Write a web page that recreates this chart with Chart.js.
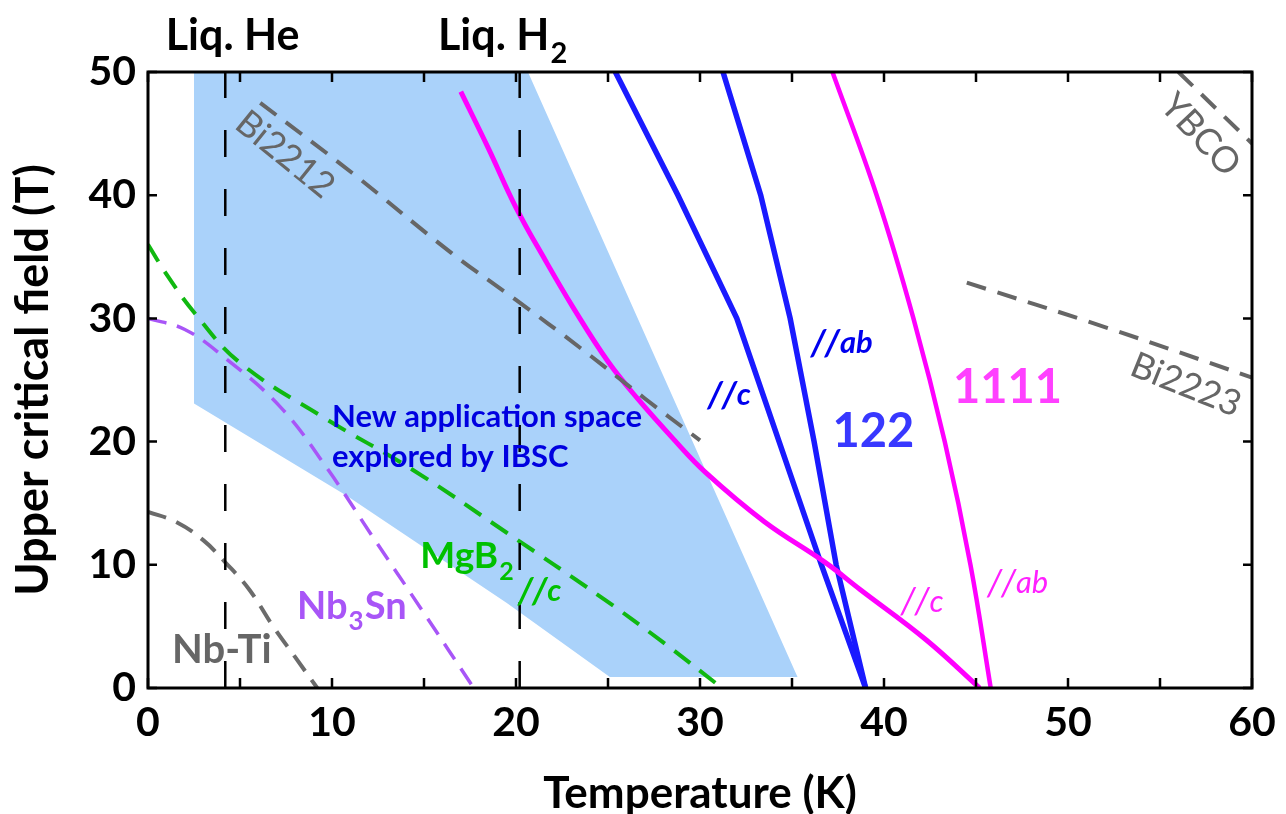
<!DOCTYPE html>
<html>
<head>
<meta charset="utf-8">
<script src="https://cdn.jsdelivr.net/npm/chart.js@4.4.0/dist/chart.umd.min.js"></script>
<style>
  html, body { margin: 0; padding: 0; background: #fff; }
  #wrap { width: 1286px; height: 814px; }
</style>
</head>
<body>
<div id="wrap"><canvas id="hc2Chart" width="1286" height="814"></canvas></div>
<script>
// --- data: temperature (K) vs upper critical field (T) ---
const xTicks = [0, 10, 20, 30, 40, 50, 60];
const yTicks = [0, 10, 20, 30, 40, 50];

const liqHeT = [4.2, 4.2];
const liqH2T = [20.2, 20.2];
const cryoH = [0, 50];

const nbtiT = [0, 1.5, 3, 4.2, 5.5, 6.8, 8, 9.2];
const nbtiH = [14.3, 13.5, 12.0, 10.2, 8.0, 5.0, 2.5, 0];

const nb3snT = [0, 2, 4.1, 7.2, 9.7, 12.2, 14.9, 17.7];
const nb3snH = [30, 29.1, 26.9, 22.8, 17.9, 12.3, 6.3, 0];

const mgb2T = [0, 1, 2.5, 5, 9.5, 14.4, 19.5, 24.6, 28, 31.2];
const mgb2H = [36, 33.6, 30.5, 26.4, 22, 17.7, 12.6, 7.4, 3.7, 0];

const bi2212T = [6.1, 11.1, 16.5, 20.0, 23.5, 27.0, 30.0];
const bi2212H = [47.5, 41.8, 35.3, 31.5, 27.6, 23.5, 20.1];

const ybcoT = [56.0, 60.0];
const ybcoH = [50, 44.2];

const bi2223T = [44.5, 52, 60];
const bi2223H = [32.9, 29.3, 25.2];

const fe1111cT = [17.0, 18.5, 20.0, 21.6, 23.1, 25.0, 26.6, 28.5, 30.3, 33.5, 36.8, 38.7, 42.3, 45.2];
const fe1111cH = [48.4, 43.8, 39.0, 34.7, 30.9, 26.5, 23.5, 20.3, 17.5, 13.5, 10.2, 8.0, 3.9, 0];

const fe1111abT = [37.2, 39.6, 41.6, 43.3, 44.7, 45.8];
const fe1111abH = [50, 40, 30, 20, 10, 0];

const fe122cT = [25.4, 28.8, 32.0, 34.3, 36.6, 39.0];
const fe122cH = [50, 40, 30, 20, 10, 0];

const fe122abT = [31.25, 33.3, 34.9, 36.2, 37.4, 39.0];
const fe122abH = [50, 40, 30, 20, 10, 0];

// new application space (polygon outline)
const areaT = [2.5, 20.65, 35.3, 25.1, 19.5, 10.8, 2.5];
const areaH = [50, 50, 0.9, 0.9, 6.9, 15.6, 23.1];

// text labels, placed in data coordinates
const notes = [
  { text: 'Liq. He', t: 4.6, h: 51.8, color: '#000', font: 'bold 43px Lato', align: 'center' },
  { text: 'Liq. H', sub: '2', t: 19.3, h: 51.8, color: '#000', font: 'bold 43px Lato', align: 'center' },
  { text: 'Bi2212', t: 7.45, h: 43.3, color: '#666', font: '36px Lato', align: 'center', base: 'middle', angle: 39 },
  { text: 'YBCO', t: 57.2, h: 44.9, color: '#666', font: '36px Lato', align: 'center', base: 'middle', angle: 47 },
  { text: 'Bi2223', t: 56.4, h: 24.6, color: '#666', font: '36px Lato', align: 'center', base: 'middle', angle: 22 },
  { text: 'New application space', t: 10.0, h: 21.2, color: '#0000e0', font: 'bold 31px Lato' },
  { text: 'explored by IBSC', t: 10.0, h: 17.9, color: '#0000e0', font: 'bold 31px Lato' },
  { text: 'MgB', sub: '2', t: 14.8, h: 9.7, color: '#00c000', font: 'bold 37px Lato' },
  { slash: true, text: 'c', t: 20.1, h: 7.1, color: '#00c000', font: 'italic bold 31px Lato' },
  { text: 'Nb', sub: '3', after: 'Sn', t: 8.1, h: 5.6, color: '#a855f7', font: 'bold 38px Lato' },
  { text: 'Nb-Ti', t: 1.3, h: 2.0, color: '#666', font: 'bold 40px Lato' },
  { slash: true, text: 'c', t: 30.4, h: 23.0, color: '#0000ee', font: 'italic bold 31px Lato' },
  { slash: true, text: 'ab', t: 36.0, h: 27.2, color: '#0000ee', font: 'italic bold 31px Lato' },
  { text: '122', t: 37.2, h: 19.6, color: '#3838ff', font: 'bold 47px Lato' },
  { text: '1111', t: 43.75, h: 23.1, color: '#ff40ff', font: 'bold 47px Lato' },
  { slash: true, text: 'c', t: 40.9, h: 6.2, color: '#ff20ff', font: 'italic 31px Lato' },
  { slash: true, text: 'ab', t: 45.6, h: 7.7, color: '#ff20ff', font: 'italic 31px Lato' }
];

function pts(xs, ys) {
  return xs.map((x, i) => ({ x: x, y: ys[i] }));
}

function curve(label, xs, ys, color, width, dash, smooth) {
  return {
    label: label,
    data: pts(xs, ys),
    showLine: true,
    borderColor: color,
    borderWidth: width,
    borderDash: dash || [],
    pointRadius: 0,
    fill: false,
    tension: smooth ? 0.4 : 0
  };
}

function drawNote(ctx, n, x, y) {
  const size = parseFloat(n.font.match(/(\d+)px/)[1]);
  const subFont = n.font.replace(/\d+px/, Math.round(size * 0.68) + 'px');
  ctx.save();
  ctx.translate(x, y);
  if (n.angle) ctx.rotate(n.angle * Math.PI / 180);
  ctx.fillStyle = n.color;
  ctx.textBaseline = n.base || 'alphabetic';
  ctx.textAlign = 'left';
  ctx.font = n.font;

  // "//" prefix drawn with wide, tall slashes
  let xs = 0;
  if (n.slash) {
    ctx.save();
    const gap = Math.round(size * 0.18);
    ctx.font = n.font.replace(/\d+px/, Math.round(size * 1.15) + 'px');
    ctx.letterSpacing = gap + 'px';
    ctx.fillText('//', 0, size * 0.08);
    xs = ctx.measureText('//').width - gap;
    ctx.restore();
  }

  const w1 = ctx.measureText(n.text).width;
  ctx.font = subFont;
  const w2 = n.sub ? ctx.measureText(n.sub).width + 2 : 0;
  ctx.font = n.font;
  const w3 = n.after ? ctx.measureText(n.after).width : 0;
  const x0 = n.align === 'center' ? -(w1 + w2 + w3) / 2 : xs;
  ctx.fillText(n.text, x0, 0);
  if (n.sub) {
    ctx.font = subFont;
    ctx.fillText(n.sub, x0 + w1 + 1, size * 0.3);
  }
  if (n.after) {
    ctx.font = n.font;
    ctx.fillText(n.after, x0 + w1 + w2, 0);
  }
  ctx.restore();
}

const decorPlugin = {
  id: 'decor',
  afterDatasetsDraw(chart) {
    const ctx = chart.ctx;
    const xs = chart.scales.x, ys = chart.scales.y;
    notes.forEach(n => drawNote(ctx, n, xs.getPixelForValue(n.t), ys.getPixelForValue(n.h)));
  },
  afterDraw(chart) {
    const ctx = chart.ctx;
    const a = chart.chartArea;
    const xs = chart.scales.x, ys = chart.scales.y;
    ctx.save();
    ctx.strokeStyle = '#000';
    ctx.lineWidth = 2.5;
    // inward ticks
    for (let v = 0; v <= 60; v += 5) {
      const px = xs.getPixelForValue(v);
      ctx.beginPath();
      ctx.moveTo(px, a.bottom); ctx.lineTo(px, a.bottom - 10);
      ctx.moveTo(px, a.top); ctx.lineTo(px, a.top + 10);
      ctx.stroke();
    }
    for (let v = 0; v <= 50; v += 10) {
      const py = ys.getPixelForValue(v);
      ctx.beginPath();
      ctx.moveTo(a.left, py); ctx.lineTo(a.left + 9, py);
      ctx.moveTo(a.right, py); ctx.lineTo(a.right - 9, py);
      ctx.stroke();
    }
    ctx.lineWidth = 3;
    ctx.strokeRect(a.left, a.top, a.right - a.left, a.bottom - a.top);
    ctx.restore();
  }
};

const datasets = [
  curve('Liq. He', liqHeT, cryoH, '#000', 2.5, [27, 32]),
  curve('Liq. H2', liqH2T, cryoH, '#000', 2.5, [27, 32]),
  curve('Nb-Ti', nbtiT, nbtiH, '#6b6b6b', 4, [19, 11], true),
  curve('Nb3Sn', nb3snT, nb3snH, '#a855f7', 3.5, [19, 11], true),
  curve('MgB2 //c', mgb2T, mgb2H, '#10b810', 4, [20, 12], true),
  curve('Bi2212', bi2212T, bi2212H, '#666', 4, [20, 12], true),
  curve('YBCO', ybcoT, ybcoH, '#666', 4, [20, 12]),
  curve('Bi2223', bi2223T, bi2223H, '#666', 4, [20, 12], true),
  curve('1111 //c', fe1111cT, fe1111cH, '#ff00ff', 5, null, true),
  curve('1111 //ab', fe1111abT, fe1111abH, '#ff00ff', 4.5, null, true),
  curve('122 //c', fe122cT, fe122cH, '#1a1aff', 5.5, null),
  curve('122 //ab', fe122abT, fe122abH, '#1a1aff', 5.5, null),
  {
    label: 'New application space',
    data: pts(areaT, areaH),
    showLine: true,
    borderWidth: 0,
    borderColor: 'rgba(0,0,0,0)',
    backgroundColor: '#aad2fa',
    pointRadius: 0,
    fill: 'shape',
    order: 10
  }
];

const tickFont = { family: 'Lato', weight: 'bold', size: 41 };
const xTitleFont = { family: 'Lato', weight: 'bold', size: 44, lineHeight: 0.9 };
const yTitleFont = { family: 'Lato', weight: 'bold', size: 45 };

new Chart(document.getElementById('hc2Chart'), {
  type: 'scatter',
  data: { datasets: datasets },
  options: {
    responsive: false,
    animation: false,
    devicePixelRatio: 1,
    layout: { padding: { top: 72, right: 34, left: 0, bottom: 0 } },
    plugins: { legend: { display: false }, tooltip: { enabled: false } },
    scales: {
      x: {
        type: 'linear', min: 0, max: 60,
        afterBuildTicks: s => { s.ticks = xTicks.map(v => ({ value: v })); },
        afterFit: s => { s.height = 126; },
        grid: { display: false, drawTicks: false },
        border: { display: false },
        ticks: { font: tickFont, color: '#000', padding: 10, maxRotation: 0 },
        title: { display: true, text: 'Temperature (K)', color: '#000', font: xTitleFont, padding: { top: 4, bottom: 0 } }
      },
      y: {
        type: 'linear', min: 0, max: 50,
        afterBuildTicks: s => { s.ticks = yTicks.map(v => ({ value: v })); },
        afterFit: s => { s.width = 148; },
        grid: { display: false, drawTicks: false },
        border: { display: false },
        ticks: { font: tickFont, color: '#000', padding: 12 },
        title: { display: true, text: 'Upper critical field (T)', color: '#000', font: yTitleFont, padding: { top: 6, bottom: 0 } }
      }
    }
  },
  plugins: [decorPlugin]
});
</script>
</body>
</html>
